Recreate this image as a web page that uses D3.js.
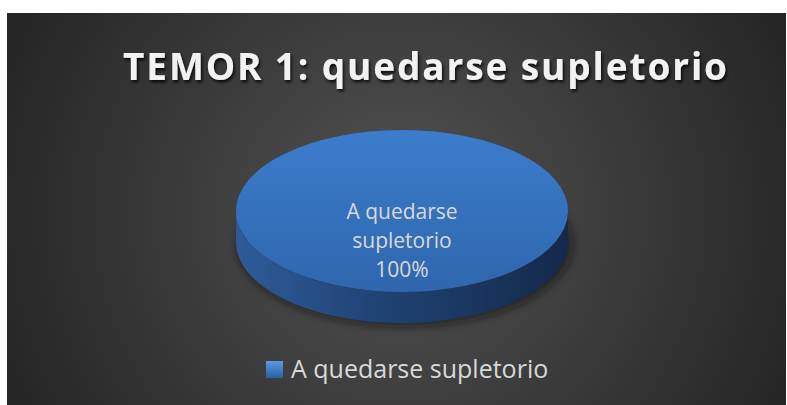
<!DOCTYPE html>
<html>
<head>
<meta charset="utf-8">
<script src="https://cdn.jsdelivr.net/npm/d3@7"></script>
<style>
  body { margin: 0; background: #fff; }
  svg { display: block; }
</style>
</head>
<body>
<div id="chart-area"></div>
<script>
// data
const categories = ["A quedarse supletorio"];
const values = [100];
const title = "TEMOR 1: quedarse supletorio";

const W = 787, H = 405;
const svg = d3.select("#chart-area").append("svg")
    .attr("width", W)
    .attr("height", H);

const defs = svg.append("defs");

// background radial gradient
let bg = defs.append("radialGradient")
    .attr("id", "bg")
    .attr("gradientUnits", "userSpaceOnUse")
    .attr("cx", 400).attr("cy", 215).attr("r", 420);
bg.append("stop").attr("offset", "0%").attr("stop-color", "#525252");
bg.append("stop").attr("offset", "100%").attr("stop-color", "#262626");

let topGrad = defs.append("linearGradient")
    .attr("id", "topGrad").attr("x1", 0).attr("y1", 0).attr("x2", 0).attr("y2", 1);
topGrad.append("stop").attr("offset", "0%").attr("stop-color", "#3b7dcc");
topGrad.append("stop").attr("offset", "100%").attr("stop-color", "#2f66ad");

let sideGrad = defs.append("linearGradient")
    .attr("id", "sideGrad").attr("x1", 0).attr("y1", 0).attr("x2", 1).attr("y2", 0);
sideGrad.append("stop").attr("offset", "0%").attr("stop-color", "#2d5c99");
sideGrad.append("stop").attr("offset", "45%").attr("stop-color", "#1f4273");
sideGrad.append("stop").attr("offset", "100%").attr("stop-color", "#14294a");

let legGrad = defs.append("linearGradient")
    .attr("id", "legGrad").attr("x1", 0).attr("y1", 0).attr("x2", 0).attr("y2", 1);
legGrad.append("stop").attr("offset", "0%").attr("stop-color", "#5a9be6");
legGrad.append("stop").attr("offset", "100%").attr("stop-color", "#2a5fa5");

let shadow = defs.append("filter").attr("id", "shadow")
    .attr("x", "-20%").attr("y", "-20%").attr("width", "140%").attr("height", "160%");
shadow.append("feGaussianBlur").attr("stdDeviation", 4);

let txtShadow = defs.append("filter").attr("id", "txtShadow")
    .attr("x", "-10%").attr("y", "-30%").attr("width", "120%").attr("height", "160%");
txtShadow.append("feDropShadow")
    .attr("dx", 1.5).attr("dy", 2.5).attr("stdDeviation", 1.5)
    .attr("flood-color", "#000").attr("flood-opacity", 0.8);

svg.append("rect")
    .attr("x", 7).attr("y", 13)
    .attr("width", 779).attr("height", 392)
    .attr("fill", "url(#bg)");

// title
svg.append("text")
    .attr("x", 425)
    .attr("y", 80)
    .attr("text-anchor", "middle")
    .attr("textLength", 604)
    .attr("lengthAdjust", "spacing")
    .attr("font-family", "'Open Sans', sans-serif")
    .attr("font-weight", "bold")
    .attr("font-size", 37)
    .attr("fill", "#f2f2f2")
    .attr("filter", "url(#txtShadow)")
    .text(title);

// 3D pie
const cx = 402, cy = 211, rx = 166, ry = 81, depth = 31;
const pie = d3.pie().sort(null).value(d => d);
const arcs = pie(values);
const arc = d3.arc().innerRadius(0).outerRadius(rx);

const g = svg.append("g");

// side path of a slice, only its front half
function sidePath(d) {
    let a0 = Math.max(d.startAngle, Math.PI / 2);
    let a1 = Math.min(d.endAngle, 3 * Math.PI / 2);
    if (a1 <= a0) return null;
    let pts = d3.range(0, 61).map(i => a0 + (a1 - a0) * i / 60);
    let top = pts.map(a => [cx + rx * Math.sin(a), cy - ry * Math.cos(a)]);
    let bot = pts.slice().reverse().map(a => [cx + rx * Math.sin(a), cy - ry * Math.cos(a) + depth]);
    return d3.line()(top.concat(bot)) + "Z";
}

// soft shadow under the pie
g.append("ellipse")
    .attr("cx", cx + 3).attr("cy", cy + depth + 2)
    .attr("rx", rx + 2).attr("ry", ry + 2)
    .attr("fill", "#111").attr("opacity", 0.55)
    .attr("filter", "url(#shadow)");

g.selectAll(".side")
    .data(arcs)
    .join("path")
    .attr("class", "side")
    .attr("d", sidePath)
    .attr("fill", "url(#sideGrad)");

g.selectAll(".top")
    .data(arcs)
    .join("path")
    .attr("class", "top")
    .attr("transform", `translate(${cx},${cy}) scale(1,${ry / rx})`)
    .attr("d", arc)
    .attr("fill", "url(#topGrad)");

// data label
const total = d3.sum(values);
arcs.forEach((d, i) => {
    let lines = ["A quedarse", "supletorio", Math.round(d.value / total * 100) + "%"];
    let t = g.append("text")
        .attr("text-anchor", "middle")
        .attr("font-family", "'Open Sans', sans-serif")
        .attr("font-size", 21)
        .attr("fill", "#d9d9d9");
    lines.forEach((l, j) => {
        t.append("tspan").attr("x", cx).attr("y", 219 + j * 29).text(l);
    });
});

// legend
const legend = svg.append("g").attr("transform", "translate(266,361)");
legend.selectAll("rect")
    .data(categories)
    .join("rect")
    .attr("width", 17).attr("height", 17)
    .attr("fill", "url(#legGrad)");
legend.selectAll("text")
    .data(categories)
    .join("text")
    .attr("x", 25).attr("y", 17)
    .attr("font-family", "'Open Sans', sans-serif")
    .attr("font-size", 25)
    .attr("fill", "#d9d9d9")
    .text(d => d);
</script>
</body>
</html>
